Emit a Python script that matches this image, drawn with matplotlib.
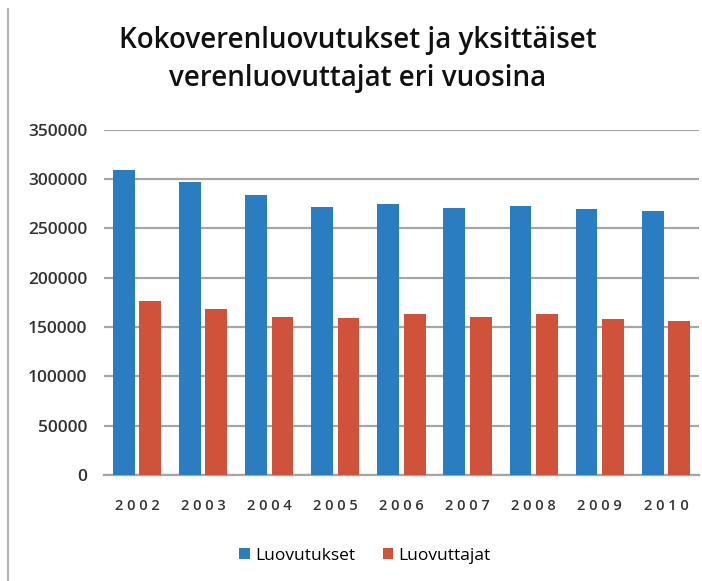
import matplotlib
matplotlib.use('Agg')
import matplotlib.pyplot as plt
import numpy as np
from matplotlib.lines import Line2D

# Kokoverenluovutukset ja luovuttajat vuosittain
years = ['2002', '2003', '2004', '2005', '2006', '2007', '2008', '2009', '2010']
luovutukset = [309000, 297000, 283500, 271800, 274200, 270100, 272800, 269100, 267800]
luovuttajat = [176300, 168200, 160000, 158700, 163100, 160400, 163100, 157700, 156000]

plt.rcParams['font.family'] = ['Open Sans', 'DejaVu Sans']

fig = plt.figure(figsize=(7.02, 5.81), dpi=100)
ax = fig.add_axes([0.148, 0.1824, 0.8477, 0.5947])

ind = np.arange(len(years))
width = 0.33

ax.bar(ind - 0.2, luovutukset, width, color='#2a7dc0', label='Luovutukset', zorder=3)
ax.bar(ind + 0.2, luovuttajat, width, color='#d0523a', label='Luovuttajat', zorder=3)

ax.set_xlim(-0.5, len(years) - 0.5)
ax.set_ylim(0, 350000)
ax.set_yticks(np.arange(0, 350001, 50000))
ax.set_yticklabels([str(v) for v in range(0, 350001, 50000)], fontsize=12.5,
                   fontweight='semibold', color='#333333')
ax.set_xticks(ind)
ax.set_xticklabels([' '.join(y) for y in years], fontsize=10.5, fontweight='semibold',
                   color='#333333')
ax.tick_params(axis='both', length=0)
ax.tick_params(axis='y', pad=12)
ax.tick_params(axis='x', pad=17)

ax.grid(axis='y', color='#a6a6a6', linewidth=1.6, zorder=0)
for s in ['top', 'right', 'left']:
    ax.spines[s].set_visible(False)
ax.spines['bottom'].set_color('#a6a6a6')
ax.spines['bottom'].set_linewidth(1.6)

fig.text(0.51, 0.898, 'Kokoverenluovutukset ja yksittäiset\nverenluovuttajat eri vuosina',
         ha='center', va='center', fontsize=20, fontweight='semibold',
         linespacing=1.4, color='#111111')

fig.legend(loc='center', bbox_to_anchor=(0.52, 0.043), ncols=2, frameon=False,
           fontsize=12.5, handlelength=0.6, handleheight=0.6, handletextpad=0.3,
           columnspacing=1.6)

# harmaa reunaviiva vasemmalla
fig.add_artist(Line2D([0.012, 0.012], [0.0, 0.985], color='#b0b0b0', linewidth=1.5))

plt.savefig('out.png', dpi=100)
